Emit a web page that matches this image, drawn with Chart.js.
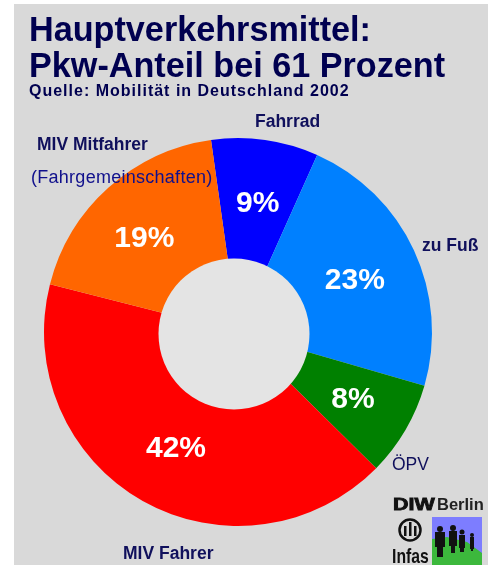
<!DOCTYPE html>
<html>
<head>
<meta charset="utf-8">
<script src="https://cdn.jsdelivr.net/npm/chart.js@4/dist/chart.umd.min.js"></script>
<style>
    html, body { margin: 0; padding: 0; background: #fff; }
    body { position: relative; width: 488px; height: 565px; overflow: hidden; font-family: "Liberation Sans", Arial, sans-serif; color: #000050; }
    #panel { position: absolute; left: 14px; top: 4px; width: 474px; height: 561px; background: #d9d9d9; }
    #chart { position: absolute; left: 0; top: 0; }
    .txt { position: absolute; white-space: nowrap; }
    .title { left: 29px; font-size: 34.2px; font-weight: bold; line-height: 36px; }
    .lbl { font-size: 17.5px; font-weight: bold; color: #10105c; }
</style>
</head>
<body>
<div id="panel"></div>
<canvas id="chart" width="488" height="565"></canvas>

<div class="txt title" style="top:11px">Hauptverkehrsmittel:</div>
<div class="txt title" style="top:47px">Pkw-Anteil bei 61 Prozent</div>
<div class="txt" style="left:29px;top:82px;font-size:16px;font-weight:bold;letter-spacing:1px">Quelle: Mobilität in Deutschland 2002</div>

<div class="txt lbl" style="left:255px;top:111px">Fahrrad</div>
<div class="txt lbl" style="left:37px;top:134px">MIV Mitfahrer</div>
<div class="txt" style="left:31px;top:167px;font-size:18px;letter-spacing:.27px;color:#10108c">(Fahrgemeinschaften)</div>
<div class="txt lbl" style="left:422px;top:235px">zu Fuß</div>
<div class="txt lbl" style="left:392px;top:454px;font-weight:normal">ÖPV</div>
<div class="txt lbl" style="left:123px;top:543px">MIV Fahrer</div>

<!-- logos -->
<div class="txt" style="left:393px;top:495px;font-size:16.5px;font-weight:bold;color:#111;transform:scaleX(1.3);transform-origin:left;-webkit-text-stroke:.8px #111">DIW</div>
<div class="txt" style="left:437px;top:495px;font-size:16.5px;font-weight:bold;color:#222">Berlin</div>
<div class="txt" style="left:392px;top:544px;font-size:21px;font-weight:bold;color:#111;transform:scaleX(.75);transform-origin:left">Infas</div>
<svg style="position:absolute;left:398px;top:518px" width="24" height="26">
    <circle cx="12" cy="12" r="10.5" fill="none" stroke="#111" stroke-width="2.5"/>
    <rect x="6" y="8" width="2.5" height="10" fill="#111"/><rect x="11" y="4" width="2.5" height="14" fill="#111"/><rect x="16" y="8" width="2.5" height="10" fill="#111"/>
</svg>
<svg style="position:absolute;left:432px;top:517px" width="50" height="48">
    <rect width="50" height="48" fill="#7d7dff"/>
    <path d="M0 22 L15 20 L35 25 L50 36 L50 48 L0 48 Z" fill="#3cb83c"/>
    <g fill="#111">
        <circle cx="8" cy="12" r="3"/><rect x="3" y="15" width="10" height="15"/><rect x="5" y="30" width="6" height="10"/>
        <circle cx="21" cy="11" r="3"/><rect x="17" y="14" width="8" height="15"/><rect x="19" y="29" width="4" height="7"/>
        <circle cx="30" cy="15" r="2.5"/><rect x="27" y="18" width="6" height="13"/><rect x="28" y="31" width="4" height="4"/>
        <circle cx="40" cy="18" r="2"/><rect x="38" y="20" width="4" height="12"/><rect x="39" y="32" width="2" height="2"/>
    </g>
</svg>

<script>
const categories = ['Fahrrad', 'zu Fuß', 'ÖPV', 'MIV Fahrer', 'MIV Mitfahrer'];
const shares = [9, 23, 8, 42, 19];
const sliceColors = ['#0000ff', '#0080ff', '#008000', '#ff0000', '#ff6600'];

// the labels in the original do not sit exactly mid-slice
const labelNudge = [[1, 5], [-5, 5], [-1, 0], [4, 0], [-4, 7]];

// hole in the original is a bit off centre, so paint it over the slices
const holeFill = {
    id: 'holeFill',
    afterDatasetsDraw(chart) {
        const arc = chart.getDatasetMeta(0).data[0];
        const ctx = chart.ctx;
        ctx.save();
        ctx.fillStyle = '#e4e4e4';
        ctx.beginPath();
        ctx.arc(arc.x - 4, arc.y + 2, 75.5, 0, Math.PI * 2);
        ctx.fill();
        ctx.restore();
    }
};

// percent labels, radius taken from the 38.5% ring of the original
const percentLabels = {
    id: 'percentLabels',
    afterDatasetsDraw(chart) {
        const ctx = chart.ctx;
        ctx.save();
        ctx.font = 'bold 30px "Liberation Sans", Arial, sans-serif';
        ctx.fillStyle = '#fff';
        ctx.textAlign = 'center';
        ctx.textBaseline = 'middle';
        chart.getDatasetMeta(0).data.forEach((arc, i) => {
            const mid = (arc.startAngle + arc.endAngle) / 2;
            const r = arc.outerRadius * (1 + 0.385) / 2;
            const x = arc.x + Math.cos(mid) * r + labelNudge[i][0];
            const y = arc.y + Math.sin(mid) * r + labelNudge[i][1];
            ctx.fillText(shares[i] + '%', x, y);
        });
        ctx.restore();
    }
};

new Chart(document.getElementById('chart').getContext('2d'), {
    type: 'doughnut',
    data: {
        labels: categories,
        datasets: [{
            data: shares,
            backgroundColor: sliceColors,
            borderWidth: 0
        }]
    },
    options: {
        responsive: false,
        animation: false,
        rotation: -8,
        cutout: '30%',
        layout: { padding: { left: 44, right: 56, top: 138, bottom: 39 } },
        plugins: {
            legend: { display: false },
            title: { display: false },
            tooltip: { enabled: false }
        }
    },
    plugins: [holeFill, percentLabels]
});
</script>
</body>
</html>
